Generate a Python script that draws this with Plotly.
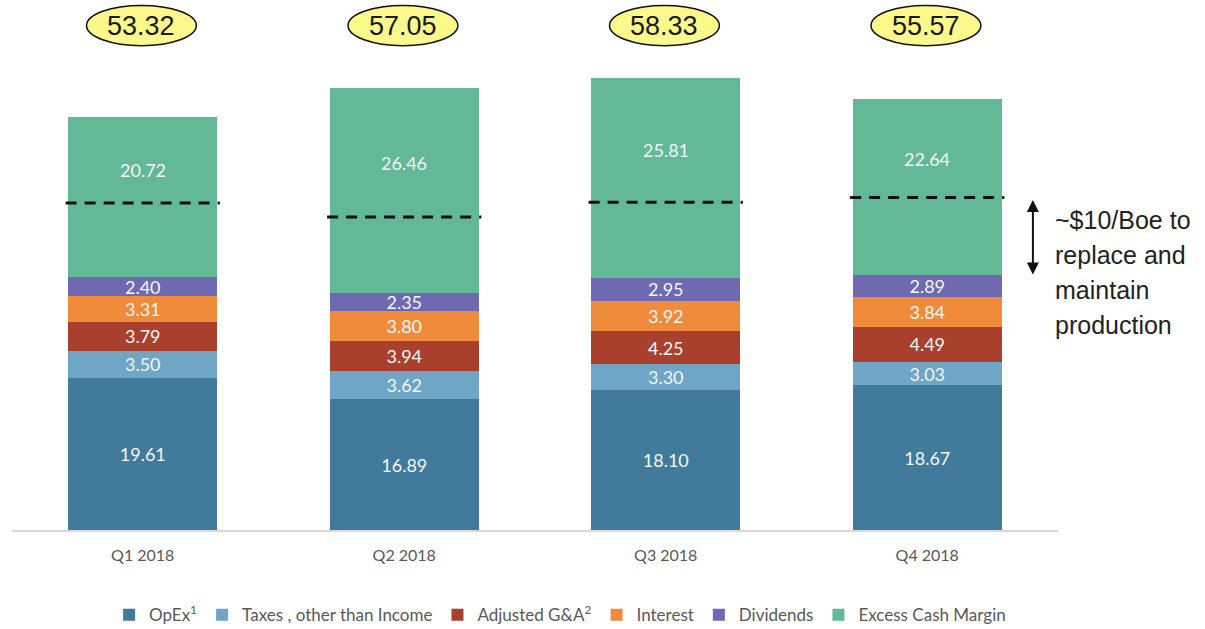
import plotly.graph_objects as go

categories = ["Q1 2018", "Q2 2018", "Q3 2018", "Q4 2018"]
opex = [19.61, 16.89, 18.10, 18.67]
taxes = [3.50, 3.62, 3.30, 3.03]
adj_ga = [3.79, 3.94, 4.25, 4.49]
interest = [3.31, 3.80, 3.92, 3.84]
dividends = [2.40, 2.35, 2.95, 2.89]
excess = [20.72, 26.46, 25.81, 22.64]
totals = [53.32, 57.05, 58.33, 55.57]
dashed_levels = [42.2, 40.4, 42.3, 42.9]
note_lines = ["~$10/Boe to", "replace and", "maintain", "production"]

series = [
    ("OpEx<sup>1</sup>", opex, "#417a9b"),
    ("Taxes , other than Income", taxes, "#6fa5c5"),
    ("Adjusted G&A<sup>2</sup>", adj_ga, "#a9402d"),
    ("Interest", interest, "#ef8b3b"),
    ("Dividends", dividends, "#6e69b0"),
    ("Excess Cash Margin", excess, "#62b897"),
]

label_font = dict(family="Lato", size=18, color="#f4f7f8")

fig = go.Figure()
for name, vals, color in series:
    is_excess = vals is excess
    fig.add_trace(go.Bar(
        x=categories, y=vals, name=name,
        marker=dict(color=color, line=dict(width=0)),
        text=None if is_excess else [f"{v:.2f}" for v in vals],
        textposition="inside", insidetextanchor="middle",
        textfont=label_font,
        hoverinfo="skip",
    ))

shapes = []
annotations = []
for i, cat in enumerate(categories):
    # excess cash margin label, in the part above the dashed line
    annotations.append(dict(x=cat, y=(dashed_levels[i] + totals[i]) / 2 - 1.3,
                            xref="x", yref="y", text=f"{excess[i]:.2f}",
                            showarrow=False, font=label_font))
    shapes.append(dict(type="line", xref="x", yref="y",
                       x0=i - 0.295, x1=i + 0.295,
                       y0=dashed_levels[i], y1=dashed_levels[i],
                       line=dict(color="#111111", width=3, dash="11px,8px")))
    shapes.append(dict(type="circle", xref="x", yref="y",
                       x0=i - 0.215, x1=i + 0.205, y0=62.5, y1=67.7,
                       fillcolor="#fbf98c", line=dict(color="#111111", width=1.5)))
    annotations.append(dict(x=i - 0.005, y=65.1, xref="x", yref="y",
                            text=f"{totals[i]:.2f}", showarrow=False,
                            font=dict(family="Liberation Sans", size=27, color="#1a1a1a")))

# double arrow + note
annotations.append(dict(x=0.976, y=42.6, xref="paper", yref="y",
                        ax=0, ay=76, axref="pixel", ayref="pixel",
                        text="", showarrow=True, arrowside="end+start",
                        arrowhead=2, startarrowhead=2, arrowsize=1.2, startarrowsize=1.2,
                        arrowwidth=2, arrowcolor="#111111"))
for k, line in enumerate(note_lines):
    annotations.append(dict(x=0.9955, y=40.0 - k * 4.5, xref="paper", yref="y",
                            xanchor="left", yanchor="middle", align="left",
                            text=line, showarrow=False,
                            font=dict(family="Liberation Sans", size=25, color="#222222")))

fig.update_layout(
    barmode="stack", bargap=0.43,
    width=1205, height=629,
    margin=dict(l=12, r=147, t=0, b=99, autoexpand=False),
    plot_bgcolor="white", paper_bgcolor="white",
    shapes=shapes, annotations=annotations,
    uniformtext=dict(minsize=18, mode="show"),
    showlegend=True,
    legend=dict(orientation="h", x=0.524, xanchor="center",
                yref="container", y=0.022, yanchor="middle",
                font=dict(family="Lato", size=17, color="#595959"),
                itemwidth=30, traceorder="normal"),
    xaxis=dict(showline=True, linecolor="#d9d9d9", linewidth=1.5, ticks="",
               ticklabelstandoff=10, automargin=False,
               tickfont=dict(family="Lato", size=16, color="#595959"),
               showgrid=False, fixedrange=True, range=[-0.5, 3.5]),
    yaxis=dict(range=[0, 68.4], visible=False, showgrid=False, fixedrange=True),
)

fig.write_html("out.html", config={"displayModeBar": False},
               post_script="document.body.style.margin='0';")
